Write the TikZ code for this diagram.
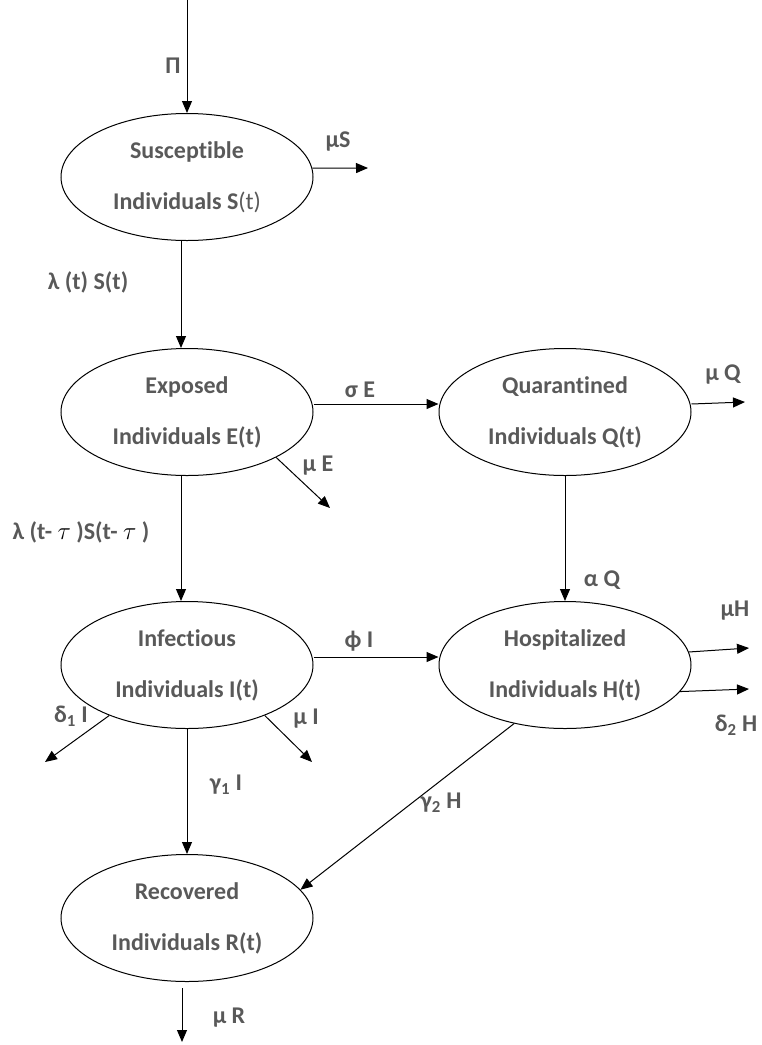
\documentclass[tikz,border=0pt]{standalone}
\usepackage{fontspec}
\setmainfont{Carlito}[Ligatures=NoCommon]
\usetikzlibrary{positioning,shapes.geometric,arrows.meta}
\definecolor{txtgray}{HTML}{595959}
\newcommand\compfont{\fontsize{24}{51}\selectfont\bfseries}

\begin{document}
\begin{tikzpicture}[x=1pt,y=-1pt,
  comp/.style={ellipse, draw, line width=1pt, minimum width=252pt, minimum height=127pt,
    inner sep=0pt, align=center, text=txtgray, font=\compfont},
  lbl/.style={text=txtgray, font=\compfont, inner sep=0pt},
  flow/.style={-{Triangle[length=12pt,width=10pt]}, line width=1pt},
  node distance=125pt]
\useasboundingbox (0,0) rectangle (761,1045);

\node[comp] (S) at (187,177) {Susceptible\\Individuals S{\mdseries(t)}};
\node[comp, below=107pt of S] (E) {Exposed\\Individuals E(t)};
\node[comp, right=of E] (Q) {Quarantined\\Individuals Q(t)};
\node[comp, below=of E] (I) {Infectious\\Individuals I(t)};
\node[comp, below=of Q] (H) {Hospitalized\\Individuals H(t)};
\node[comp, below=of I] (R) {Recovered\\Individuals R(t)};

\coordinate (in) at (187,0);
\coordinate (outS) at (368,168);
\coordinate (outE) at (330,508);
\coordinate (outQ) at (745,402);
\coordinate (outI1) at (45,762);
\coordinate (outI2) at (312,762);
\coordinate (outH1) at (749,648);
\coordinate (outH2) at (749,689);
\coordinate (outR) at (182,1042);

\draw[flow] (in) -- (S);
\draw[flow] (S.4) -- (outS);
\draw[flow] ([xshift=-6pt]S.south) -- ([xshift=-6pt]E.north);
\draw[flow] ([yshift=8pt]E.east) -- ([yshift=8pt]Q.west);
\draw[flow] (E.-27) -- (outE);
\draw[flow] ([yshift=8pt]Q.east) -- (outQ);
\draw[flow] (Q) -- (H);
\draw[flow] ([xshift=-6pt]E.south) -- ([xshift=-6pt]I.north);
\draw[flow] ([yshift=8pt]I.east) -- ([yshift=8pt]H.west);
\draw[flow] (I.213) -- (outI1);
\draw[flow] (I.-33) -- (outI2);
\draw[flow] (I) -- (R);
\draw[flow] (H.6) -- (outH1);
\draw[flow] (H.-13) -- (outH2);
\draw[flow] (H.229) -- (R.14);
\draw[flow, shorten <=6pt] ([xshift=-5pt]R.south) -- (outR);

\node[lbl] (lPi) at (173,66) {Π};
\node[lbl] (lmuS) at (338,142) {μS};
\node[lbl] (llam) at (88,282) {λ (t) S(t)};
\node[lbl] (lsig) at (360,390) {σ E};
\node[lbl] (lmuE) at (318,466) {μ E};
\node[lbl] (llamtau) at (81,532) {λ (t- {\color{black}$\tau$} )S(t- {\color{black}$\tau$} )};
\node[lbl] (lmuQ) at (723,375) {μ Q};
\node[lbl] (lalp) at (602,580) {α Q};
\node[lbl] (lphi) at (359,641) {ϕ I};
\node[lbl] (lmuH) at (735,611) {μH};
\node[lbl] (ldel2) at (736,725) {δ\textsubscript{2} H};
\node[lbl] (ldel1) at (71,716) {δ\textsubscript{1} I};
\node[lbl] (lmuI) at (306,719) {μ I};
\node[lbl] (lgam1) at (226,785) {γ\textsubscript{1} I};
\node[lbl] (lgam2) at (441,803) {γ\textsubscript{2} H};
\node[lbl] (lmuR) at (229,1018) {μ R};
\end{tikzpicture}
\end{document}
